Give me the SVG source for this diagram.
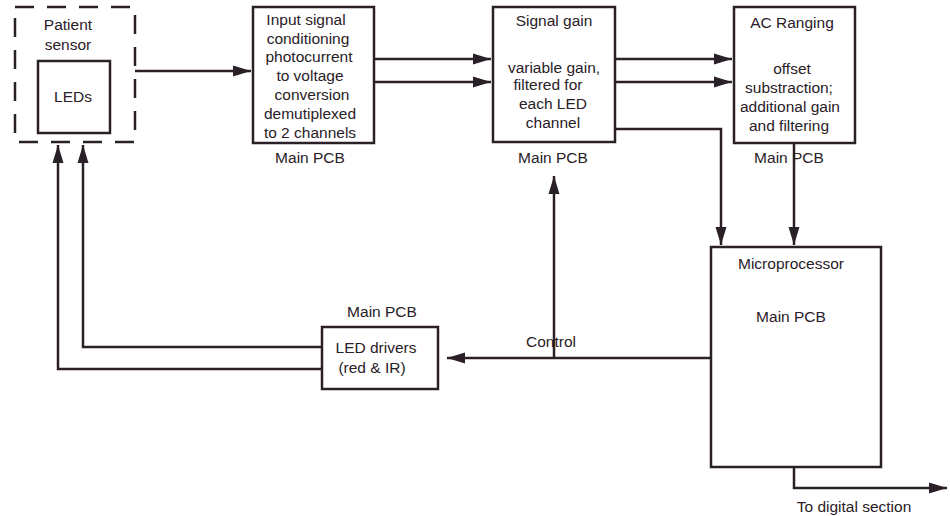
<svg xmlns="http://www.w3.org/2000/svg" width="950" height="516" viewBox="0 0 950 516">
<defs>
<style>
text{font-family:"Liberation Sans",Arial,sans-serif;font-size:15.5px;fill:#2a2027;text-anchor:middle}
.box{fill:#fff;stroke:#2a2027;stroke-width:2.5}
.dash{fill:none;stroke:#2a2027;stroke-width:2.5;stroke-dasharray:19 13}
.conn{fill:none;stroke:#2a2027;stroke-width:2.5}
.arr{marker-end:url(#ah)}
</style>
<marker id="ah" markerUnits="userSpaceOnUse" markerWidth="18" markerHeight="12" refX="18" refY="6" orient="auto" viewBox="0 0 18 12">
<path d="M0,0.5 L18,6 L0,11.5 z" fill="#2a2027"/>
</marker>
</defs>
<rect width="950" height="516" fill="#fff"/>
<g id="connectors">
<path class="conn arr" d="M135,71 H251"/>
<path class="conn arr" d="M374,59 H491"/>
<path class="conn arr" d="M374,82 H491"/>
<path class="conn arr" d="M615,59 H732"/>
<path class="conn arr" d="M615,82 H732"/>
<path class="conn arr" d="M615,129 H721 V245"/>
<path class="conn arr" d="M794,143 V245"/>
<path class="conn arr" d="M794,467 V488 H947"/>
<path class="conn arr" d="M711,358 H447"/>
<path class="conn arr" d="M554,358 V176"/>
<path class="conn arr" d="M322,347 H83 V145"/>
<path class="conn arr" d="M322,369 H58 V145"/>
</g>
<g id="patient-sensor">
<rect class="dash" x="15" y="7" width="120" height="135"/>
<text x="68" y="30">Patient</text>
<text x="68" y="50">sensor</text>
</g>
<g id="leds">
<rect class="box" x="38" y="61" width="72" height="72"/>
<text x="73" y="102">LEDs</text>
</g>
<g id="input-signal">
<rect class="box" x="253" y="7" width="121" height="136"/>
<text x="306" y="25">Input signal</text>
<text x="308" y="44">conditioning</text>
<text x="309" y="62">photocurrent</text>
<text x="310" y="81">to voltage</text>
<text x="312" y="100">conversion</text>
<text x="310" y="119">demutiplexed</text>
<text x="310" y="138">to 2 channels</text>
<text x="310" y="163">Main PCB</text>
</g>
<g id="signal-gain">
<rect class="box" x="493" y="7" width="122" height="135"/>
<text x="554" y="26">Signal gain</text>
<text x="554" y="73">variable gain,</text>
<text x="548" y="90">filtered for</text>
<text x="553" y="109">each LED</text>
<text x="553" y="128">channel</text>
<text x="553" y="163">Main PCB</text>
</g>
<g id="ac-ranging">
<rect class="box" x="734" y="7" width="121" height="136"/>
<text x="792" y="28">AC Ranging</text>
<text x="792" y="74">offset</text>
<text x="789" y="93">substraction;</text>
<text x="790" y="112">additional gain</text>
<text x="789" y="131">and filtering</text>
<text x="789" y="163">Main PCB</text>
</g>
<g id="microprocessor">
<rect class="box" x="711" y="247" width="170" height="220"/>
<text x="791" y="269">Microprocessor</text>
<text x="791" y="322">Main PCB</text>
</g>
<g id="led-drivers">
<rect class="box" x="322" y="327" width="116" height="62"/>
<text x="376" y="353">LED drivers</text>
<text x="372" y="373">(red &amp; IR)</text>
<text x="382" y="317">Main PCB</text>
</g>
<g id="labels">
<text x="551" y="347">Control</text>
<text x="854" y="512">To digital section</text>
</g>
</svg>
